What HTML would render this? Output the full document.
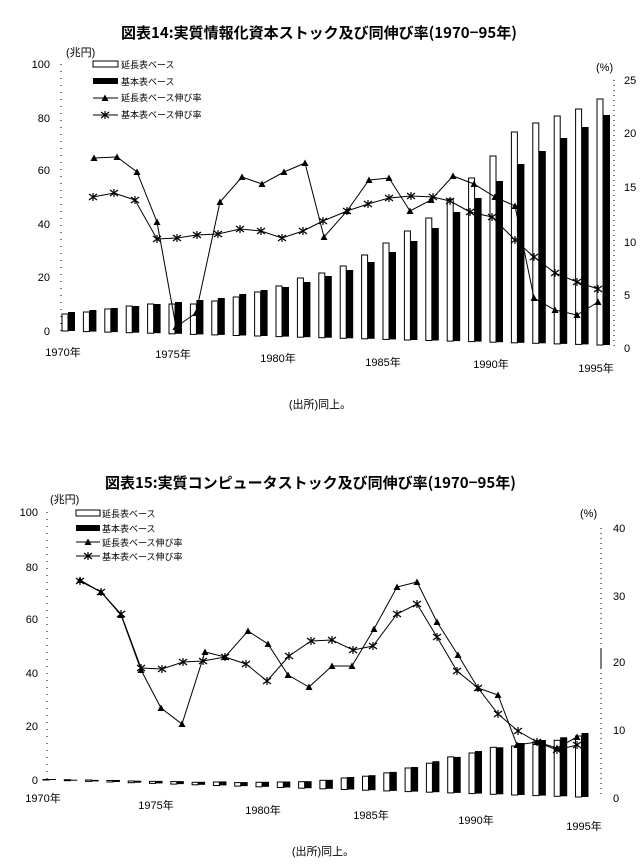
<!DOCTYPE html>
<html><head><meta charset="utf-8"><style>
html,body{margin:0;padding:0;background:#fff;}
svg{display:block;}
text{font-family:"Liberation Sans","Noto Sans CJK JP",sans-serif;fill:#000;}
.t{font-family:"Noto Sans CJK JP",sans-serif;font-weight:bold;font-size:15px;}
.s{font-size:11px;}
.l{font-size:9px;font-family:"Noto Sans CJK JP",sans-serif;}
.w{fill:#fff;stroke:#000;stroke-width:1;}
.b{fill:#000;}
.ln{fill:none;stroke:#000;stroke-width:1;}
</style></head><body>
<svg width="640" height="865" viewBox="0 0 640 865" xmlns="http://www.w3.org/2000/svg">
<defs>
<marker id="tri" markerWidth="8" markerHeight="8" refX="4" refY="4" markerUnits="userSpaceOnUse"><path d="M4,0.5 L7.5,7 L0.5,7 Z" fill="#000"/></marker>
<marker id="crs" markerWidth="10" markerHeight="10" refX="5" refY="5" markerUnits="userSpaceOnUse"><path d="M1,2 L9,8 M9,2 L1,8 M5,1 L5,9" stroke="#000" stroke-width="1.2"/></marker>
</defs>

<!-- Chart 1 -->
<text class="t" x="121" y="38">図表14:実質情報化資本ストック及び同伸び率(1970−95年)</text>
<text class="s" x="66" y="56">(兆円)</text>
<text class="s" x="596" y="71">(%)</text>
<line x1="61" y1="64" x2="61" y2="331" stroke="#000" stroke-dasharray="1,6"/>
<line x1="614" y1="80" x2="614" y2="348" stroke="#000" stroke-dasharray="1,4"/>
<g class="s" text-anchor="end">
<text x="50" y="68">100</text><text x="50" y="122">80</text><text x="50" y="174">60</text>
<text x="50" y="228">40</text><text x="50" y="281">20</text><text x="50" y="335">0</text>
</g>
<g class="s">
<text x="624" y="84">25</text><text x="624" y="137">20</text><text x="624" y="191">15</text>
<text x="624" y="246">10</text><text x="624" y="299">5</text><text x="624" y="352">0</text>
</g>
<g class="s" text-anchor="middle">
<text x="63" y="356">1970年</text><text x="173" y="358">1975年</text><text x="278" y="362">1980年</text>
<text x="383" y="366">1985年</text><text x="491" y="368">1990年</text><text x="596" y="372">1995年</text>
</g>
<!-- legend 1 -->
<rect class="w" x="93" y="61" width="25" height="6"/><text class="l" x="121" y="68">延長表ベース</text>
<rect class="b" x="93" y="78" width="25" height="6"/><text class="l" x="121" y="85">基本表ベース</text>
<polyline class="ln" points="93,98 105,98 118,98" marker-mid="url(#tri)"/><text class="l" x="121" y="101">延長表ベース伸び率</text>
<polyline class="ln" points="93,115 105,115 118,115" marker-mid="url(#crs)"/><text class="l" x="121" y="118">基本表ベース伸び率</text>
<!-- bars 1 -->
<g>
<rect class="w" x="62" y="314" width="6" height="17"/><rect class="b" x="68" y="312" width="7" height="19"/>
<rect class="w" x="83.4" y="312" width="6" height="19.6"/><rect class="b" x="89.4" y="310" width="7" height="21.6"/>
<rect class="w" x="104.8" y="309" width="6" height="23.1"/><rect class="b" x="110.8" y="308" width="7" height="24.1"/>
<rect class="w" x="126.2" y="306" width="6" height="26.7"/><rect class="b" x="132.2" y="306" width="7" height="26.7"/>
<rect class="w" x="147.6" y="304" width="6" height="29.2"/><rect class="b" x="153.6" y="304" width="7" height="29.2"/>
<rect class="w" x="169" y="304" width="6" height="29.8"/><rect class="b" x="175" y="302" width="7" height="31.8"/>
<rect class="w" x="190.4" y="304" width="6" height="30.4"/><rect class="b" x="196.4" y="300" width="7" height="34.4"/>
<rect class="w" x="211.8" y="301" width="6" height="33.9"/><rect class="b" x="217.8" y="298" width="7" height="36.9"/>
<rect class="w" x="233.2" y="297" width="6" height="38.5"/><rect class="b" x="239.2" y="294" width="7" height="41.5"/>
<rect class="w" x="254.6" y="292" width="6" height="44"/><rect class="b" x="260.6" y="290" width="7" height="46"/>
<rect class="w" x="276" y="286" width="6" height="50.6"/><rect class="b" x="282" y="287" width="7" height="49.6"/>
<rect class="w" x="297.4" y="278" width="6" height="59.2"/><rect class="b" x="303.4" y="282" width="7" height="55.2"/>
<rect class="w" x="318.8" y="273" width="6" height="64.7"/><rect class="b" x="324.8" y="276" width="7" height="61.7"/>
<rect class="w" x="340.2" y="266" width="6" height="72.3"/><rect class="b" x="346.2" y="270" width="7" height="68.3"/>
<rect class="w" x="361.6" y="255" width="6" height="83.8"/><rect class="b" x="367.6" y="262" width="7" height="76.8"/>
<rect class="w" x="383" y="243" width="6" height="96.4"/><rect class="b" x="389" y="252" width="7" height="87.4"/>
<rect class="w" x="404.4" y="231" width="6" height="109"/><rect class="b" x="410.4" y="241" width="7" height="99"/>
<rect class="w" x="425.8" y="218" width="6" height="122.5"/><rect class="b" x="431.8" y="228" width="7" height="112.5"/>
<rect class="w" x="447.2" y="199" width="6" height="142.1"/><rect class="b" x="453.2" y="212" width="7" height="129.1"/>
<rect class="w" x="468.6" y="178" width="6" height="163.6"/><rect class="b" x="474.6" y="198" width="7" height="143.6"/>
<rect class="w" x="490" y="156" width="6" height="186.2"/><rect class="b" x="496" y="181" width="7" height="161.2"/>
<rect class="w" x="511.4" y="132" width="6" height="210.8"/><rect class="b" x="517.4" y="164" width="7" height="178.8"/>
<rect class="w" x="532.8" y="123" width="6" height="220.3"/><rect class="b" x="538.8" y="151" width="7" height="192.3"/>
<rect class="w" x="554.2" y="116" width="6" height="227.9"/><rect class="b" x="560.2" y="138" width="7" height="205.9"/>
<rect class="w" x="575.6" y="109" width="6" height="235.4"/><rect class="b" x="581.6" y="127" width="7" height="217.4"/>
<rect class="w" x="597" y="99" width="6" height="246"/><rect class="b" x="603" y="115" width="7" height="230"/>
</g>
<polyline class="ln" marker-start="url(#tri)" marker-mid="url(#tri)" marker-end="url(#tri)" points="94,158 117,157 137,172 157,222 176,327 196,313 220,202 242,177 262,184 284,172 305,163 324,237 347,211 369,180 389,178 410,211 431,200 453,176 474,184 495,197 515,206 534,298 555,310 577,315 598,302"/>
<polyline class="ln" marker-start="url(#crs)" marker-mid="url(#crs)" marker-end="url(#crs)" points="93,197 114,193 135,200 157,239 177,238 197,235 218,234 240,229 261,231 282,238 303,231 323,221 347,211 368,204 389,198 411,196 433,197 450,201 470,212 492,217 515,240 534,257 555,273 577,282 598,289"/>
<text class="s" x="320" y="408" text-anchor="middle">(出所)同上。</text>

<!-- Chart 2 -->
<text class="t" x="105" y="488">図表15:実質コンピュータストック及び同伸び率(1970−95年)</text>
<text class="s" x="50" y="503">(兆円)</text>
<text class="s" x="580" y="517">(%)</text>
<line x1="47" y1="512" x2="47" y2="780" stroke="#000" stroke-dasharray="1,6"/>
<line x1="601" y1="528" x2="601" y2="797" stroke="#000" stroke-dasharray="1,4"/>
<line x1="601" y1="648" x2="601" y2="668" stroke="#000"/>
<g class="s" text-anchor="end">
<text x="38" y="516">100</text><text x="38" y="571">80</text><text x="38" y="623">60</text>
<text x="38" y="677">40</text><text x="38" y="730">20</text><text x="38" y="784">0</text>
</g>
<g class="s">
<text x="613" y="532">40</text><text x="613" y="600">30</text><text x="613" y="666">20</text>
<text x="613" y="734">10</text><text x="613" y="802">0</text>
</g>
<g class="s" text-anchor="middle">
<text x="43" y="802">1970年</text><text x="156" y="809">1975年</text><text x="263" y="814">1980年</text>
<text x="371" y="819">1985年</text><text x="476" y="824">1990年</text><text x="584" y="830">1995年</text>
</g>
<rect class="w" x="76" y="510" width="24" height="6"/><text class="l" x="102" y="517">延長表ベース</text>
<rect class="b" x="76" y="525" width="24" height="6"/><text class="l" x="102" y="532">基本表ベース</text>
<polyline class="ln" points="76,542 88,542 100,542" marker-mid="url(#tri)"/><text class="l" x="102" y="546">延長表ベース伸び率</text>
<polyline class="ln" points="76,556 88,556 100,556" marker-mid="url(#crs)"/><text class="l" x="102" y="560">基本表ベース伸び率</text>
<g>
<rect class="w" x="43" y="779.5" width="6" height="0.5"/><rect class="b" x="49" y="779" width="7" height="1"/>
<rect class="w" x="64.3" y="779.7" width="6" height="1"/><rect class="b" x="70.3" y="779.7" width="7" height="1"/>
<rect class="w" x="85.6" y="780" width="6" height="1.4"/><rect class="b" x="91.6" y="779.9" width="7" height="1.5"/>
<rect class="w" x="106.9" y="780.5" width="6" height="1.5"/><rect class="b" x="112.9" y="780" width="7" height="2"/>
<rect class="w" x="128.2" y="781" width="6" height="1.7"/><rect class="b" x="134.2" y="780.7" width="7" height="2"/>
<rect class="w" x="149.5" y="781.4" width="6" height="2"/><rect class="b" x="155.5" y="780.9" width="7" height="2.5"/>
<rect class="w" x="170.8" y="781.6" width="6" height="2.5"/><rect class="b" x="176.8" y="781.1" width="7" height="3"/>
<rect class="w" x="192.1" y="782.3" width="6" height="2.5"/><rect class="b" x="198.1" y="781.8" width="7" height="3"/>
<rect class="w" x="213.4" y="782" width="6" height="3.5"/><rect class="b" x="219.4" y="781.4" width="7" height="4"/>
<rect class="w" x="234.7" y="782.6" width="6" height="3.5"/><rect class="b" x="240.7" y="782.1" width="7" height="4"/>
<rect class="w" x="256" y="782.3" width="6" height="4.5"/><rect class="b" x="262" y="781.8" width="7" height="5"/>
<rect class="w" x="277.3" y="782" width="6" height="5.5"/><rect class="b" x="283.3" y="781.5" width="7" height="6"/>
<rect class="w" x="298.6" y="781.7" width="6" height="6.5"/><rect class="b" x="304.6" y="781.2" width="7" height="7"/>
<rect class="w" x="319.9" y="780.3" width="6" height="8.5"/><rect class="b" x="325.9" y="779.8" width="7" height="9"/>
<rect class="w" x="341.2" y="778" width="6" height="11.5"/><rect class="b" x="347.2" y="777" width="7" height="12.5"/>
<rect class="w" x="362.5" y="776.2" width="6" height="14"/><rect class="b" x="368.5" y="775.2" width="7" height="15"/>
<rect class="w" x="383.8" y="772.9" width="6" height="18"/><rect class="b" x="389.8" y="771.9" width="7" height="19"/>
<rect class="w" x="405.1" y="768" width="6" height="23.6"/><rect class="b" x="411.1" y="767" width="7" height="24.6"/>
<rect class="w" x="426.4" y="763.2" width="6" height="29"/><rect class="b" x="432.4" y="761.2" width="7" height="31"/>
<rect class="w" x="447.7" y="756.9" width="6" height="36"/><rect class="b" x="453.7" y="756.9" width="7" height="36"/>
<rect class="w" x="469" y="753" width="6" height="40.6"/><rect class="b" x="475" y="751" width="7" height="42.6"/>
<rect class="w" x="490.3" y="747.3" width="6" height="47"/><rect class="b" x="496.3" y="747.3" width="7" height="47"/>
<rect class="w" x="511.6" y="746" width="6" height="49"/><rect class="b" x="517.6" y="743" width="7" height="52"/>
<rect class="w" x="532.9" y="742" width="6" height="53.6"/><rect class="b" x="538.9" y="740" width="7" height="55.6"/>
<rect class="w" x="554.2" y="740.3" width="6" height="56"/><rect class="b" x="560.2" y="737.3" width="7" height="59"/>
<rect class="w" x="575.5" y="736" width="6" height="61"/><rect class="b" x="581.5" y="733" width="7" height="64"/>
</g>
<polyline class="ln" marker-start="url(#tri)" marker-mid="url(#tri)" marker-end="url(#tri)" points="80,580 101,592 121,615 141,670 161,708 182,724 205,652 225,657 248,631 268,644 288,675 309,687 332,666 352,666 374,629 397,587 417,582 437,622 458,655 478,688 498,695 517,745 537,742 557,748 577,737"/>
<polyline class="ln" marker-start="url(#crs)" marker-mid="url(#crs)" marker-end="url(#crs)" points="80,581 101,592 121,614 141,668 162,669 183,662 203,661 225,657 246,664 267,681 289,656 311,641 332,640 353,650 373,646 397,614 417,604 437,637 457,671 478,688 498,714 518,731 537,742 557,750 577,745"/>
<text class="s" x="323" y="855" text-anchor="middle">(出所)同上。</text>
</svg>
</body></html>
